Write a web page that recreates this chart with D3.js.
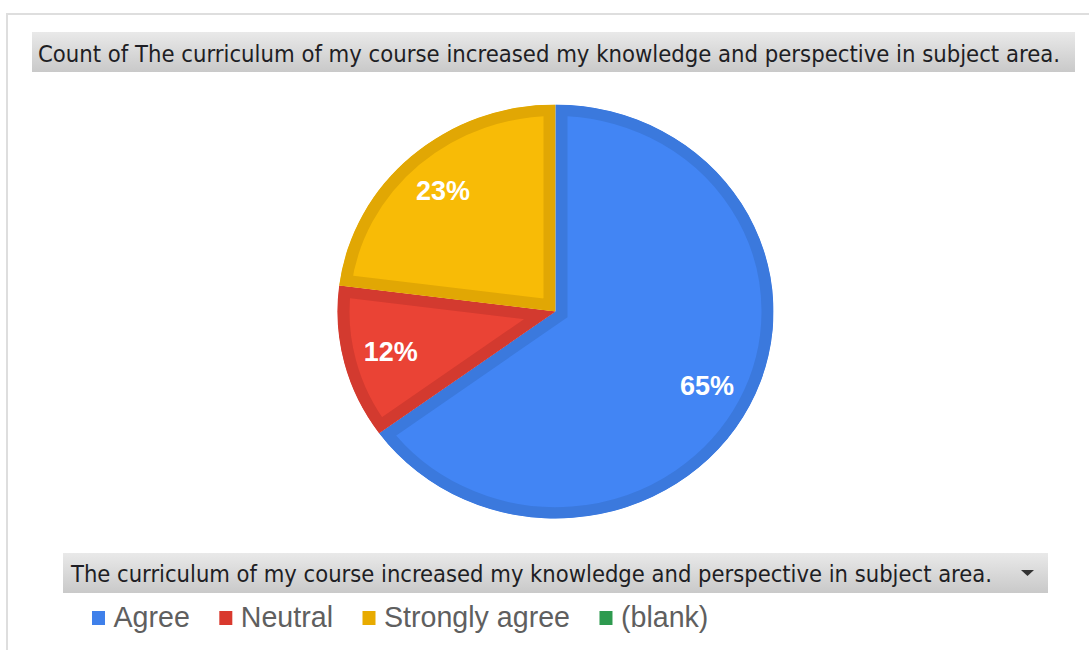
<!DOCTYPE html>
<html>
<head>
<meta charset="utf-8">
<script src="https://cdn.jsdelivr.net/npm/d3@7"></script>
<style>
  body { margin: 0; background: #fff; }
  svg { display: block; }
</style>
</head>
<body>
<div id="chart"></div>
<script>
// Data
const categories = ["Agree", "Neutral", "Strongly agree", "(blank)"];
const counts = [65, 12, 23, 0];
const fills = ["#4285f4", "#ea4335", "#f8bb06", "#34a853"];
const borders = ["#3b79dd", "#d33a2f", "#e1a704", "#2e9a4f"];
const legendColors = ["#3f80ea", "#d9392e", "#e8ab00", "#2e9a4f"];
const chartTitle = "Count of The curriculum of my course increased my knowledge and perspective in subject area.";
const fieldTitle = "The curriculum of my course increased my knowledge and perspective in subject area.";

const W = 1089, H = 650;
const svg = d3.select("#chart").append("svg")
    .attr("width", W)
    .attr("height", H);

const defs = svg.append("defs");
const grad = defs.append("linearGradient")
    .attr("id", "barGrad")
    .attr("x1", 0).attr("y1", 0).attr("x2", 0).attr("y2", 1);
grad.append("stop").attr("offset", "0%").attr("stop-color", "#e9e9e9");
grad.append("stop").attr("offset", "100%").attr("stop-color", "#c9c9c9");

// outer frame
svg.append("rect")
    .attr("x", 7).attr("y", 14)
    .attr("width", W + 20).attr("height", H + 20)
    .attr("fill", "none")
    .attr("stroke", "#dedede")
    .attr("stroke-width", 2);

// title bar
svg.append("rect")
    .attr("x", 32).attr("y", 32)
    .attr("width", 1043).attr("height", 40)
    .attr("fill", "url(#barGrad)");
svg.append("text")
    .attr("x", 38).attr("y", 62)
    .attr("textLength", 1022)
    .attr("lengthAdjust", "spacingAndGlyphs")
    .style("font-family", "'DejaVu Sans Condensed', 'DejaVu Sans', sans-serif")
    .style("font-size", "23.5px")
    .style("fill", "#1e1e24")
    .text(chartTitle);

// pie
const cx = 555.5, cy = 311.5, rx = 218, ry = 207;
const pieData = categories.map((c, i) => ({cat: c, value: counts[i], i: i}));
const total = d3.sum(counts);
const pie = d3.pie().sort(null).value(d => d.value);
const arcs = pie(pieData).filter(d => d.data.value > 0);
const arc = d3.arc().innerRadius(0).outerRadius(rx);
const labelArc = d3.arc().innerRadius(170).outerRadius(170);

const pg = svg.append("g")
    .attr("transform", `translate(${cx},${cy}) scale(1,${ry / rx})`);

arcs.forEach((d, k) => {
    defs.append("clipPath").attr("id", "clip" + k)
        .append("path").attr("d", arc(d));
});

pg.selectAll("path.slice")
    .data(arcs)
    .join("path")
    .attr("class", "slice")
    .attr("d", arc)
    .attr("fill", d => fills[d.data.i])
    .attr("stroke", d => borders[d.data.i])
    .attr("stroke-width", 24)
    .attr("clip-path", (d, k) => `url(#clip${k})`);

svg.append("g")
    .selectAll("text")
    .data(arcs)
    .join("text")
    .attr("x", d => cx + labelArc.centroid(d)[0])
    .attr("y", d => cy + labelArc.centroid(d)[1] * ry / rx)
    .attr("text-anchor", "middle")
    .attr("dy", "0.36em")
    .style("font-family", "'Liberation Sans', Arial, sans-serif")
    .style("font-weight", "bold")
    .style("font-size", "27px")
    .style("fill", "#fff")
    .text(d => Math.round(d.data.value / total * 100) + "%");

// legend field bar
svg.append("rect")
    .attr("x", 63).attr("y", 553)
    .attr("width", 985).attr("height", 40)
    .attr("fill", "url(#barGrad)");
svg.append("text")
    .attr("x", 71).attr("y", 582)
    .attr("textLength", 921)
    .attr("lengthAdjust", "spacingAndGlyphs")
    .style("font-family", "'DejaVu Sans Condensed', 'DejaVu Sans', sans-serif")
    .style("font-size", "23.5px")
    .style("fill", "#1e1e24")
    .text(fieldTitle);
svg.append("path")
    .attr("d", d3.line()([[1021, 570], [1034, 570], [1027.5, 576]]) + "Z")
    .attr("fill", "#333");

// legend items
const legend = svg.append("g");
let lx = 92;
categories.forEach((c, i) => {
    legend.append("rect")
        .attr("x", lx).attr("y", 611)
        .attr("width", 13).attr("height", 14)
        .attr("fill", legendColors[i]);
    const t = legend.append("text")
        .attr("x", lx + 21.5).attr("y", 627)
        .style("font-family", "'Liberation Sans', Arial, sans-serif")
        .style("font-size", "28.6px")
        .style("fill", "#5f5f5f")
        .text(c);
    lx += 21.5 + t.node().getComputedTextLength() + 29.5;
});
</script>
</body>
</html>
